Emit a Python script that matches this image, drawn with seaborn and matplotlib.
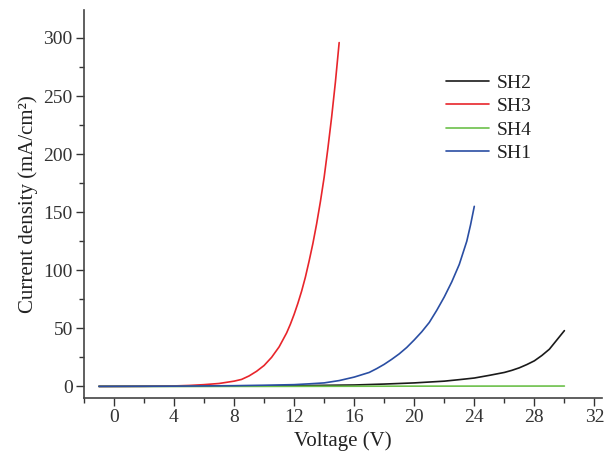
import matplotlib
matplotlib.use("Agg")
import matplotlib.pyplot as plt
from matplotlib.ticker import MultipleLocator
import seaborn as sns
import pandas as pd

# values
sh2_v = [-1, 8, 12, 16, 18, 20, 22, 23, 24, 25, 26, 26.5, 27, 27.5, 28, 28.5, 29, 29.25, 29.5, 29.75, 30]
sh2_j = [0, 0.2, 0.6, 1.2, 2, 3, 4.5, 5.8, 7.2, 9.5, 12, 13.8, 16, 18.8, 22, 26.6, 32, 36, 40, 44, 48]

sh3_v = [-1, 2, 4, 5, 6, 7, 8, 8.5, 9, 9.5, 10, 10.5, 11, 11.5, 11.75, 12, 12.25, 12.5, 12.75,
         13, 13.25, 13.5, 13.75, 14, 14.25, 14.5, 14.75, 15]
sh3_j = [0, 0.1, 0.4, 0.8, 1.5, 2.5, 4.5, 6, 9, 13, 18, 25, 34, 46, 53.5, 62, 71.5, 82, 94,
         108, 123, 140, 159, 180, 205, 232, 262, 296]

sh4_v = [-1, 10, 20, 30]
sh4_j = [0, 0, 0.2, 0.3]

sh1_v = [-1, 4, 8, 10, 12, 13, 14, 15, 16, 16.5, 17, 17.5, 18, 18.5, 19, 19.5, 20, 20.5, 21,
         21.5, 22, 22.5, 23, 23.25, 23.5, 23.75, 24]
sh1_j = [0, 0.2, 0.6, 1, 1.5, 2.2, 3, 5, 8, 10, 12, 15.3, 19, 23.3, 28, 33.5, 40, 47, 55,
         65.5, 77, 90, 105, 115, 125, 139, 155]

names = ["SH2", "SH3", "SH4", "SH1"]
colors = ["#1a1a1a", "#e8252b", "#6cc04a", "#2a4ea3"]

rows = []
for name, vs, js in [("SH2", sh2_v, sh2_j), ("SH3", sh3_v, sh3_j),
                     ("SH4", sh4_v, sh4_j), ("SH1", sh1_v, sh1_j)]:
    for v, j in zip(vs, js):
        rows.append({"Voltage": v, "J": j, "sample": name})
df = pd.DataFrame(rows)

sns.set_style("ticks")
plt.rcParams["font.family"] = ["Liberation Serif", "DejaVu Serif"]

fig = plt.figure(figsize=(6.08, 4.58), dpi=100)
ax = fig.add_axes([0.138, 0.131, 0.852, 0.847])

sns.lineplot(data=df, x="Voltage", y="J", hue="sample", hue_order=names,
             palette=dict(zip(names, colors)), linewidth=1.2, ax=ax,
             estimator=None, sort=False)

ax.set_xlim(-2, 32.5)
ax.set_ylim(-10, 324)
ax.xaxis.set_major_locator(MultipleLocator(4))
ax.xaxis.set_minor_locator(MultipleLocator(2))
ax.yaxis.set_major_locator(MultipleLocator(50))
ax.yaxis.set_minor_locator(MultipleLocator(25))
ax.tick_params(which="major", direction="out", length=6, width=1, pad=2,
               labelsize=14, colors="#333333")
ax.tick_params(which="minor", direction="out", length=3.5, width=1, colors="#333333")
for s in ["left", "bottom"]:
    ax.spines[s].set_color("#444444")
    ax.spines[s].set_linewidth(1.2)
sns.despine(ax=ax)

ax.set_xlabel("Voltage (V)", fontsize=15, color="#222222")
ax.set_ylabel("Current density (mA/cm²)", fontsize=15, color="#222222")

leg = ax.legend(loc="upper right", bbox_to_anchor=(0.898, 0.88), frameon=False,
                fontsize=14, handlelength=2.2, labelspacing=0.3, handletextpad=0.4)
for t in leg.get_texts():
    t.set_color("#222222")

fig.savefig("out.png", dpi=100)
